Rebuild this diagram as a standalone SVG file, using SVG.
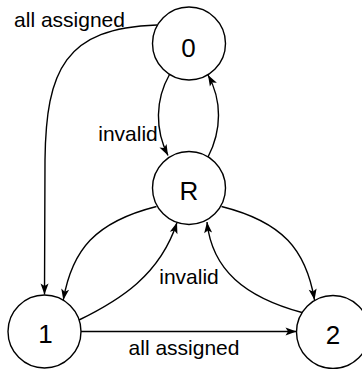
<svg xmlns="http://www.w3.org/2000/svg" width="362" height="369" viewBox="0 0 362 369">
  <defs>
    <marker id="arrow" markerUnits="userSpaceOnUse" viewBox="-12 -5 13 10" markerWidth="13" markerHeight="10" refX="0" refY="0" orient="auto">
      <path d="M0,0 L-11,-4 L-8.5,0 L-11,4 Z" fill="#000"/>
    </marker>
    <style>
      .state { fill: #fff; stroke: #000; stroke-width: 1.4; }
      .state-label { font-family: "Liberation Sans", Arial, sans-serif; font-size: 26px; fill: #000; text-anchor: middle; }
      .edge { fill: none; stroke: #000; stroke-width: 1.4; marker-end: url(#arrow); }
      .edge-label { font-family: "Liberation Sans", Arial, sans-serif; font-size: 21px; fill: #000; text-anchor: middle; }
    </style>
  </defs>
  <rect width="362" height="369" fill="#fff"/>

  <g id="connectors">
    <!-- 0 -> 1 -->
    <path class="edge" d="M157,25 C65,28 46,70 45,160 L44.5,294.5"/>
    <!-- 0 -> R -->
    <path class="edge" d="M169.5,74.5 C155,100 155,130 168,155.5"/>
    <!-- R -> 0 -->
    <path class="edge" d="M208,157 C222,130 222,100 208,75"/>
    <!-- R -> 1 -->
    <path class="edge" d="M156.5,206.5 C95,222 72,250 63.3,300"/>
    <!-- 1 -> R -->
    <path class="edge" d="M79,320 C120,300 160,275 177,222.5"/>
    <!-- R -> 2 -->
    <path class="edge" d="M221.5,206.5 C283,222 306,250 314.5,300"/>
    <!-- 2 -> R -->
    <path class="edge" d="M302,312.5 C245,297 212,270 207,222"/>
    <!-- 1 -> 2 -->
    <path class="edge" d="M81,331.5 L296.5,331.5"/>
  </g>

  <g id="edge-labels">
    <text class="edge-label" x="69.5" y="26.5">all assigned</text>
    <text class="edge-label" x="128" y="141">invalid</text>
    <text class="edge-label" x="189" y="284.3">invalid</text>
    <text class="edge-label" x="184" y="355">all assigned</text>
  </g>

  <g id="state-0">
    <circle class="state" cx="189" cy="43.5" r="36.5"/>
    <text class="state-label" x="188.5" y="56.5">0</text>
  </g>
  <g id="state-R">
    <circle class="state" cx="189" cy="188" r="36.5"/>
    <text class="state-label" x="189" y="200">R</text>
  </g>
  <g id="state-1">
    <circle class="state" cx="44.5" cy="331.5" r="36.5"/>
    <text class="state-label" x="45.5" y="343.3">1</text>
  </g>
  <g id="state-2">
    <circle class="state" cx="333" cy="332" r="36.5"/>
    <text class="state-label" x="333" y="344">2</text>
  </g>
</svg>
